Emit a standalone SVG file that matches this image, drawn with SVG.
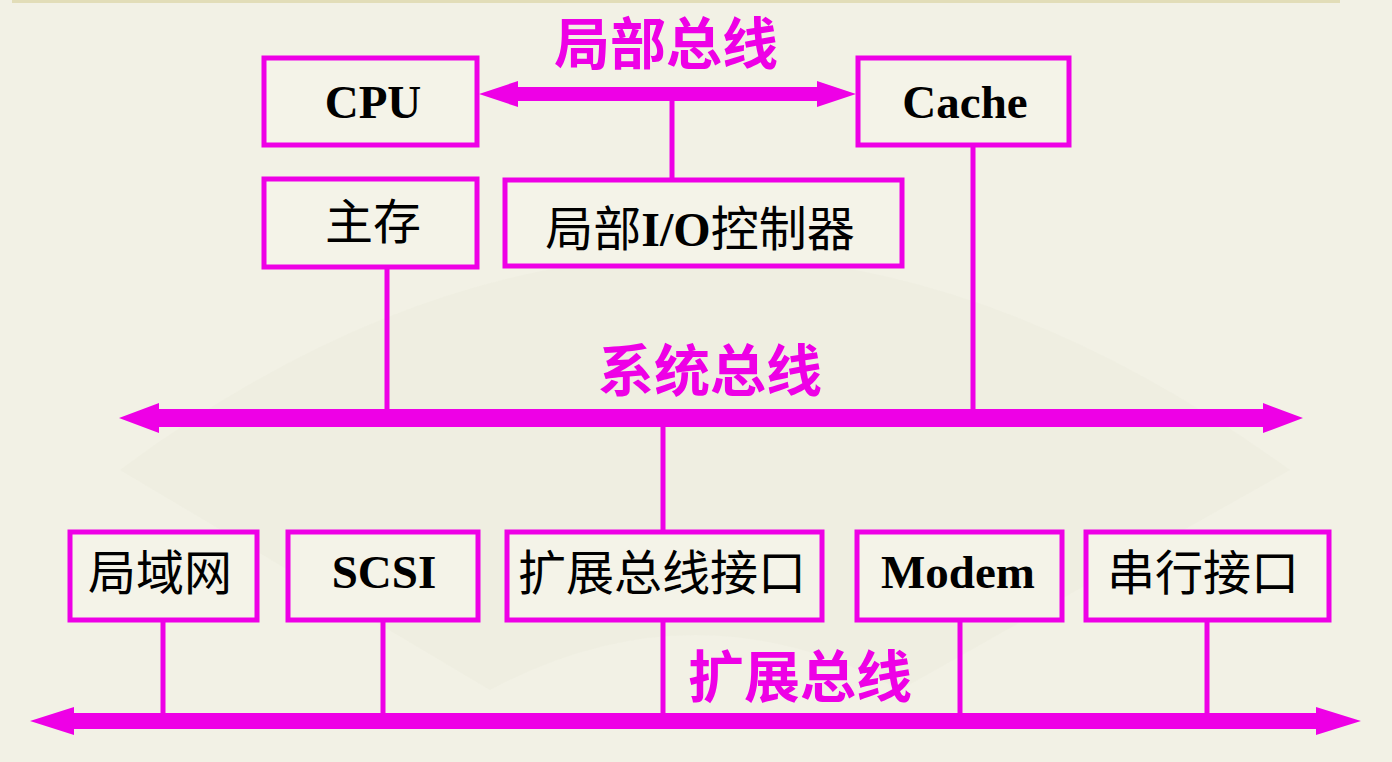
<svg xmlns="http://www.w3.org/2000/svg" width="1392" height="762" viewBox="0 0 1392 762">
<style>
.box{fill:#F4F3E8;stroke:#EE00E6;stroke-width:5}
.ln{stroke:#EE00E6;stroke-width:5;fill:none}
.bus{fill:#EE00E6}
.lat{font-family:"Liberation Serif","Noto Sans CJK SC",serif;font-weight:bold;font-size:47px;fill:#000;text-anchor:middle}
.cjk{font-family:"Liberation Serif","Noto Sans CJK SC",serif;font-size:48px;fill:#000;text-anchor:middle}
.lbl{font-family:"Noto Sans CJK SC",sans-serif;font-weight:bold;font-size:56px;fill:#EE00E6;text-anchor:middle}
</style>
<rect x="0" y="0" width="1392" height="762" fill="#F2F1E5"/>
<rect x="12" y="0" width="1328" height="3" fill="#E2DDB8"/>
<path d="M120,470 Q696,40 1290,470 L900,690 Q696,580 490,690 Z" fill="#ECEBDD" opacity="0.4"/>
<g id="connectors">
<polygon class="bus" points="479,94 518,81 518,87 817,87 817,81 856,94 817,107 817,101 518,101 518,107"/>
<polygon class="bus" points="119,418 159,403 159,409 1263,409 1263,403 1303,418 1263,433 1263,427 159,427 159,433"/>
<polygon class="bus" points="30,721 74,707 74,713 1316,713 1316,707 1361,721 1316,735 1316,729 74,729 74,735"/>
<line class="ln" x1="672" y1="100" x2="672" y2="180"/>
<line class="ln" x1="387" y1="268" x2="387" y2="410"/>
<line class="ln" x1="973" y1="146" x2="973" y2="410"/>
<line class="ln" x1="663" y1="426" x2="663" y2="531"/>
<line class="ln" x1="163" y1="620" x2="163" y2="714"/>
<line class="ln" x1="383" y1="620" x2="383" y2="714"/>
<line class="ln" x1="663" y1="620" x2="663" y2="714"/>
<line class="ln" x1="960" y1="620" x2="960" y2="714"/>
<line class="ln" x1="1207" y1="620" x2="1207" y2="714"/>
</g>
<g id="label-local"><text class="lbl" x="666" y="64">局部总线</text></g>
<g id="label-system"><text class="lbl" x="710" y="391">系统总线</text></g>
<g id="label-ext"><text class="lbl" x="800" y="697">扩展总线</text></g>
<g id="cpu"><rect class="box" x="264" y="58" width="213" height="87"/><text class="lat" x="373" y="118">CPU</text></g>
<g id="cache"><rect class="box" x="858" y="58" width="211" height="87"/><text class="lat" x="965" y="118">Cache</text></g>
<g id="mem"><rect class="box" x="264" y="179" width="213" height="88"/><text class="cjk" x="373" y="239">主存</text></g>
<g id="localio"><rect class="box" x="505" y="180" width="397" height="86"/><text class="cjk" x="700" y="246">局部<tspan font-weight="bold">I/O</tspan>控制器</text></g>
<g id="lan"><rect class="box" x="70" y="532" width="187" height="88"/><text class="cjk" x="160" y="590">局域网</text></g>
<g id="scsi"><rect class="box" x="288" y="532" width="190" height="88"/><text class="lat" x="384" y="588">SCSI</text></g>
<g id="extif"><rect class="box" x="507" y="532" width="315" height="88"/><text class="cjk" x="662" y="590">扩展总线接口</text></g>
<g id="modem"><rect class="box" x="857" y="532" width="205" height="88"/><text class="lat" x="958" y="588">Modem</text></g>
<g id="serial"><rect class="box" x="1086" y="532" width="243" height="88"/><text class="cjk" x="1203" y="590">串行接口</text></g>
</svg>
